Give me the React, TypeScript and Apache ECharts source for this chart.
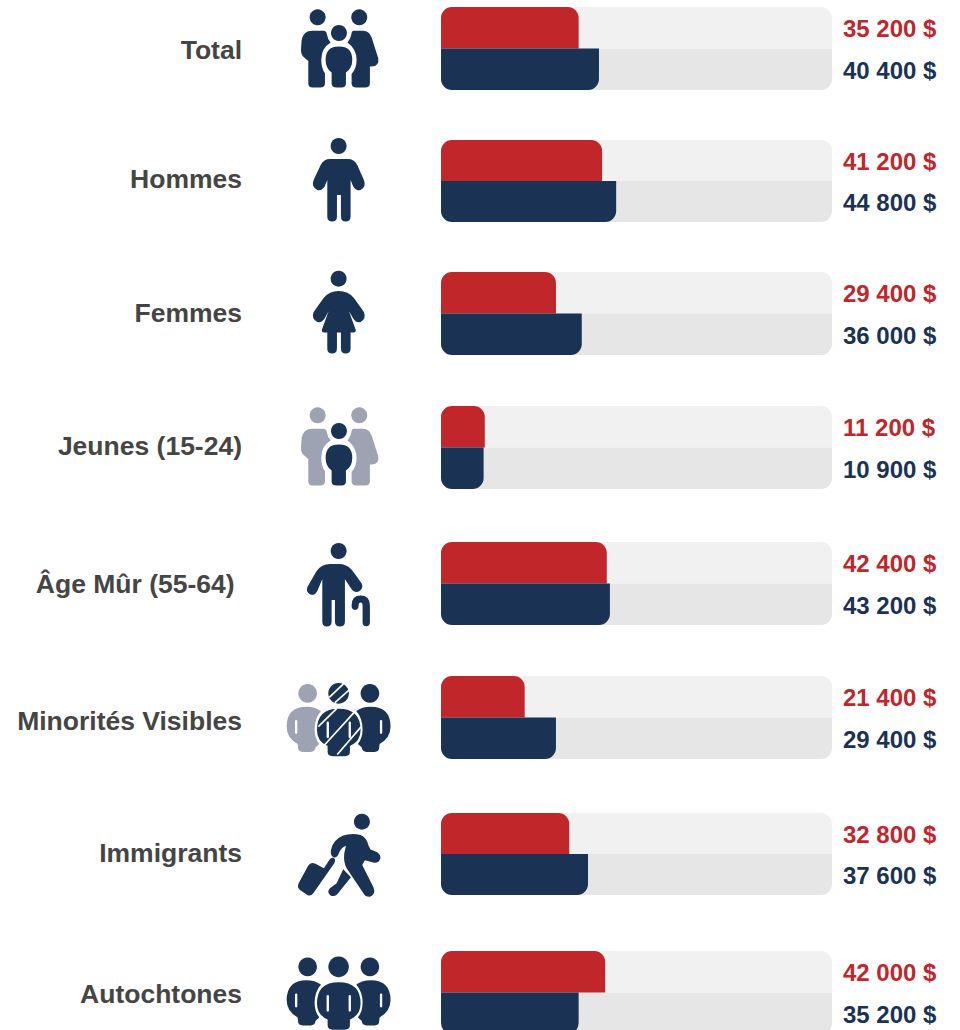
import React, { useEffect, useRef } from "react";
import * as echarts from "echarts";

const categories = ["Total", "Hommes", "Femmes", "Jeunes (15-24)", "Âge Mûr (55-64) ", "Minorités Visibles", "Immigrants", "Autochtones"];
const redValues = [35200, 41200, 29400, 11200, 42400, 21400, 32800, 42000];
const navyValues = [40400, 44800, 36000, 10900, 43200, 29400, 37600, 35200];
const axisMax = 100000;

const RED = "#c1262b";
const NAVY = "#1a3354";
const GREY = "#9da3b3";
const TEXT = "#454545";
const FONT = '"Liberation Sans", Arial, sans-serif';
const RADIUS = 11;

const rowTops = [7, 140, 272, 406, 542, 676, 813, 951];
const rowHeights = [83, 82, 83, 83, 83, 83, 82, 83];
const labelCenters = [50, 179, 313, 446, 584, 721, 853, 994];
const labelRight = [242, 242, 242, 242, 242, 242, 242, 242];
const iconTops = [0, 130, 262, 398, 535, 670, 805, 943.5];

const shapes: Record<string, string> = {
  famLeft: "M97 92 L130 92 Q139 92 140 100 Q143 118 152 128 Q124 145 124 180 Q124 205 135 220 L135 250 Q135 263 120 263 L98 263 Q85 263 85 250 L85 183 L72 172 Q63 165 63 150 L65 120 Q70 92 97 92 Z",
  famRight: "M222 92 L250 92 Q268 92 275 112 L295 175 Q299 199 275 200 L270 200 L270 250 Q270 263 255 263 L230 263 Q215 263 215 250 L215 222 Q230 205 230 180 Q230 148 203 128 Q213 115 215 100 Q215 92 222 92 Z",
  famChild: "M177 140 Q217 140 217 180 Q217 205 198 218 L198 250 Q198 263 185 263 L170 263 Q155 263 155 250 L155 218 Q137 205 137 180 Q137 140 177 140 Z",
  man: "M150 87 L204 87 Q222 87 232 105 L252 150 Q260 170 242 180 Q228 184 220 170 L212 150 L212 260 Q212 275 197 275 Q183 275 183 260 L183 195 L171 195 L171 260 Q171 275 157 275 Q142 275 142 260 L142 150 L134 170 Q125 184 112 180 Q93 170 101 150 L122 105 Q132 87 150 87 Z",
  woman: "M176 87 Q205 87 222 108 L252 150 Q260 170 242 180 Q228 184 220 170 L207 148 L227 203 Q229 212 220 212 L212 212 L212 260 Q212 275 197 275 Q183 275 183 260 L183 212 L171 212 L171 260 Q171 275 157 275 Q142 275 142 260 L142 212 L133 212 Q124 212 126 203 L146 148 L134 170 Q125 184 112 180 Q93 170 101 150 L131 108 Q148 87 176 87 Z",
  senior: "M150 87 L176 87 Q200 87 216 105 L245 145 Q252 160 237 170 Q222 175 213 160 L195 133 L195 260 Q195 275 180 275 Q165 275 165 260 L165 195 L155 195 L155 260 Q155 275 141 275 Q127 275 127 260 L127 133 L112 168 Q103 184 90 178 Q76 170 83 155 L110 108 Q125 87 150 87 Z",
  cane: "M270 262 Q270 274 259 274 Q248 274 248 262 L248 212 Q248 203 242 203 Q236 203 236 212 Q236 225 225 225 Q215 225 215 212 Q215 182 242 182 Q270 182 270 212 Z",
  trioLeft: "M80 110 Q105 110 123 123 Q104 145 104 178 Q104 205 118 222 L107 232 Q105 246 92 246 L68 246 Q54 246 54 232 L53 222 Q20 205 20 170 Q20 110 80 110 Z",
  trioMid: "M176 116 Q242 116 242 180 Q242 215 210 228 L210 245 Q210 259 195 259 L158 259 Q143 259 143 245 L143 228 Q111 215 111 180 Q111 116 176 116 Z",
  trioRight: "M272 110 Q247 110 229 123 Q248 145 248 178 Q248 205 234 222 L245 232 Q247 246 260 246 L284 246 Q298 246 298 232 L299 222 Q332 205 332 170 Q332 110 272 110 Z",
  walker: "M153 135 Q158 105 188 92 Q215 83 242 90 Q260 97 266 122 L272 134 L292 142 Q304 150 301 162 Q295 176 280 173 L255 166 L247 180 L281 248 Q288 268 272 275 Q258 278 250 264 L200 190 Q190 172 193 145 L198 122 Q182 128 177 145 Q172 160 160 157 Q150 150 153 135 Z",
  walkerLeg: "M190 193 L213 217 L172 268 Q160 278 150 270 Q140 260 150 250 L170 235 Z",
  suitcase: "M85 182 Q92 170 105 176 L132 190 L148 165 Q155 155 163 160 Q168 165 163 175 L100 265 Q92 275 82 270 L60 255 Q50 248 56 235 Z",
};

let registered = false;
function registerShapes() {
  if (registered) return;
  registered = true;
  Object.keys(shapes).forEach((k) => {
    echarts.graphic.registerShape(k, echarts.graphic.extendPath(shapes[k], {}));
  });
}

const S = 1 / 3;
const part = (type: string, fill: string) => ({ type, x: 0, y: 0, style: { fill } });
const dot = (cx: number, cy: number, r: number, fill: string) => ({ type: "circle", shape: { cx, cy, r }, style: { fill } });
const slit = (x: number, y: number, h: number) => ({ type: "rect", shape: { x, y, width: 7, height: h, r: 3.5 }, style: { fill: "#fff" } });
const stripe = (x1: number, y1: number, x2: number, y2: number) => ({ type: "line", shape: { x1, y1, x2, y2 }, style: { stroke: "#fff", lineWidth: 5 } });

const family = (adult: string) => [
  dot(113, 52, 24, adult), dot(238, 52, 24, adult), dot(177, 99, 24, NAVY),
  part("famLeft", adult), part("famRight", adult), part("famChild", NAVY),
];
const trio = (left: string) => [
  dot(83, 70, 28, left), dot(176, 70, 31, NAVY), dot(270, 70, 28, NAVY),
  part("trioLeft", left), part("trioMid", NAVY), part("trioRight", NAVY),
  slit(45, 150, 42), slit(140, 155, 50), slit(206, 155, 50), slit(300, 150, 42),
];

const icons: any[][] = [
  family(NAVY),
  [dot(176, 48, 24, NAVY), part("man", NAVY)],
  [dot(176, 50, 24, NAVY), part("woman", NAVY)],
  family(GREY),
  [dot(176, 48, 24, NAVY), part("senior", NAVY), part("cane", NAVY)],
  [
    ...trio(GREY),
    stripe(148, 82, 192, 40), stripe(165, 98, 208, 60),
    stripe(115, 170, 170, 116), stripe(133, 226, 222, 128), stripe(172, 254, 244, 170),
  ],
  [dot(246, 50, 24, NAVY), part("walker", NAVY), part("walkerLeg", NAVY), part("suitcase", NAVY)],
  trio(NAVY),
];

const money = (v: number) => `${Math.floor(v / 1000)} ${String(v % 1000).padStart(3, "0")} $`;

function buildOption() {
  const grid = rowTops.map((top, i) => ({ left: 441, width: 391, top, height: rowHeights[i] }));
  const xAxis = rowTops.map((_, i) => ({ type: "value", gridIndex: i, min: 0, max: axisMax, show: false }));
  const yAxis = rowTops.map((_, i) => ({
    type: "category", gridIndex: i, inverse: true, show: false, data: ["red", "navy"],
  }));
  const series: any[] = [];
  categories.forEach((name, i) => {
    const labelFor = (v: number, color: string) => ({
      show: true, position: "right", distance: 11, offset: [0, 1], formatter: money(v), color,
      fontFamily: FONT, fontWeight: "bold", fontSize: 24,
    });
    series.push({
      type: "bar", name: name + " fond", xAxisIndex: i, yAxisIndex: i, silent: true,
      barCategoryGap: "0%", barGap: "-100%", z: 1,
      data: [
        { value: axisMax, itemStyle: { color: "#f1f1f1", borderRadius: [RADIUS, RADIUS, 0, 0] }, label: labelFor(redValues[i], RED) },
        { value: axisMax, itemStyle: { color: "#e6e6e6", borderRadius: [0, 0, RADIUS, RADIUS] }, label: labelFor(navyValues[i], NAVY) },
      ],
    });
    series.push({
      type: "bar", name, xAxisIndex: i, yAxisIndex: i, silent: true,
      barCategoryGap: "0%", barGap: "-100%", z: 2,
      data: [
        { value: redValues[i], itemStyle: { color: RED, borderRadius: [RADIUS, RADIUS, 0, 0] } },
        { value: navyValues[i], itemStyle: { color: NAVY, borderRadius: [0, 0, RADIUS, RADIUS] } },
      ],
    });
  });
  const graphic: any[] = [];
  categories.forEach((name, i) => {
    graphic.push({
      type: "text", x: labelRight[i], y: labelCenters[i], silent: true,
      style: { text: name, textAlign: "right", textVerticalAlign: "middle", fill: TEXT, font: `bold 26.5px ${FONT}` },
    });
    graphic.push({ type: "group", x: 280, y: iconTops[i], scaleX: S, scaleY: S, silent: true, children: icons[i] });
  });
  return { animation: false, tooltip: { show: false }, grid, xAxis, yAxis, series, graphic };
}

export default function App() {
  const ref = useRef<HTMLDivElement>(null);
  useEffect(() => {
    document.body.style.margin = "0";
    registerShapes();
    const chart = echarts.init(ref.current!, undefined, { renderer: "svg" });
    chart.setOption(buildOption() as any);
    return () => chart.dispose();
  }, []);
  return (
    <div style={{ width: 960, height: 1030, overflow: "hidden", background: "#fff" }}>
      <div ref={ref} style={{ width: 960, height: 1050 }} />
    </div>
  );
}
